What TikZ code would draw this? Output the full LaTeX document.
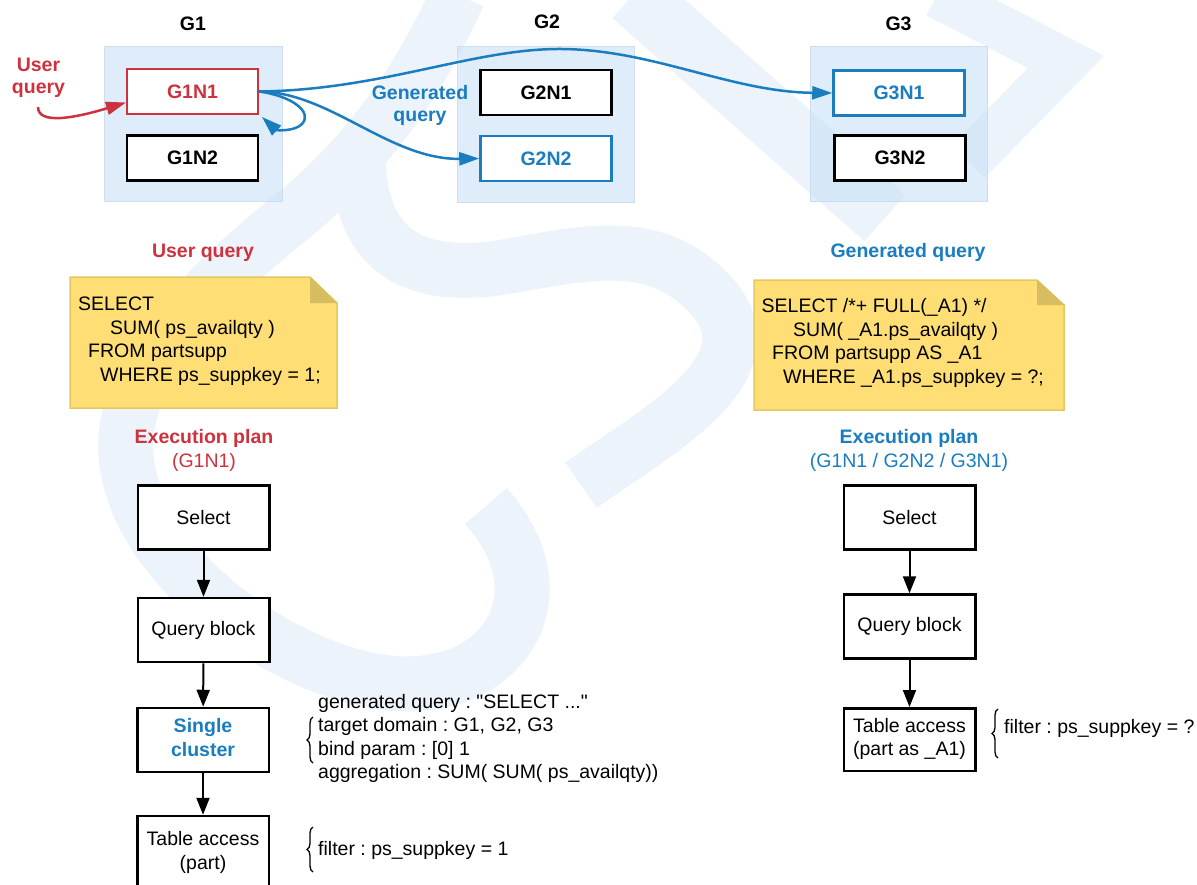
\documentclass[tikz,border=0pt]{standalone}
\usepackage{fontspec}
\setmainfont{Liberation Sans}
\newfontfamily\plainsans{Liberation Sans}
\usetikzlibrary{arrows.meta,calc,decorations.pathreplacing}

\definecolor{qred}{RGB}{204,51,63}
\definecolor{qblue}{RGB}{26,125,192}
\definecolor{grpfill}{RGB}{222,237,249}
\definecolor{grpline}{RGB}{206,222,236}
\definecolor{notefill}{RGB}{255,222,117}
\definecolor{noteline}{RGB}{228,200,95}
\definecolor{notefold}{RGB}{214,190,96}
\definecolor{wmk}{RGB}{200,220,243}

% rows of text set with a fixed line pitch
\newcommand{\txtrows}[2]{\begin{tabular}[t]{@{}#1@{}}#2\end{tabular}}
% straight double quote (no TeX ligature mapping)
\newcommand{\dq}{{\plainsans\char34}}
\frenchspacing

\begin{document}
\begin{tikzpicture}[x=1pt, y=-1pt,
  font=\fontsize{19.5}{23.5}\selectfont,
  grp/.style={fill=grpfill, draw=grpline, line width=0.8pt},
  gnode/.style={draw, line width=2.5pt, fill=white, minimum width=131pt,
    minimum height=45pt, inner sep=0pt,
    font=\fontsize{19.5}{23.5}\selectfont\bfseries},
  planbox/.style={draw, line width=2.5pt, fill=white, minimum width=131.5pt,
    minimum height=64pt, inner sep=0pt, align=center},
  flow/.style={-{Triangle[length=17pt,width=13pt]}, line width=2pt},
  link/.style={qblue, line width=2.5pt, -{Triangle[length=20pt,width=13pt]}},
  redlink/.style={qred, line width=2.5pt, -{Triangle[length=20pt,width=13pt]}},
  brc/.style={decorate, decoration={brace, amplitude=6pt}, line width=1.3pt},
  note/.style={fill=notefill, draw=noteline, line width=1.5pt},
  fold/.style={fill=notefold},
  wm/.style={draw=wmk, draw opacity=0.32, line width=55pt},
  lbl/.style={inner sep=0pt, anchor=base},
  txt/.style={inner sep=0pt, anchor=base west},
  twoline/.style={inner sep=0pt, font=\fontsize{19.5}{22}\selectfont\bfseries}]

\useasboundingbox (0,0) rectangle (1197,884);
\clip (0,0) rectangle (1197,884);
\fill[white] (0,0) rectangle (1197,884);

% group panels
\draw[grp] (104,46) rectangle (282,201);
\draw[grp] (457,46) rectangle (634,202);
\draw[grp] (810,46) rectangle (987,201);

% background emblem
\draw[wm]
  (458,-5) .. controls (420,80) and (370,150) .. (300,210)
           .. controls (200,290) and (110,380) .. (128,470)
           .. controls (150,590) and (330,700) .. (430,682)
           .. controls (510,672) and (560,590) .. (486,506)
  (358,153) .. controls (358,265) and (430,280) .. (510,266)
            .. controls (590,252) and (660,235) .. (715,300)
            .. controls (770,370) and (660,430) .. (581,485);
\draw[wm, line width=62pt] (633,-5) -- (885,218);
\draw[wm, line width=46pt, line join=miter] (937,-5) -- (1066,62) -- (968,162);

% group titles
\node[lbl, font=\fontsize{19.5}{23.5}\selectfont\bfseries] (tg1) at (193,30) {G1};
\node[lbl, font=\fontsize{19.5}{23.5}\selectfont\bfseries] (tg2) at (547,28) {G2};
\node[lbl, font=\fontsize{19.5}{23.5}\selectfont\bfseries] (tg3) at (898.5,30) {G3};

% cluster nodes
\node[gnode, draw=qred, text=qred, line width=2pt] (g1n1) at (192.5,91.5) {G1N1};
\node[gnode] (g1n2) at (192.5,158) {G1N2};
\node[gnode] (g2n1) at (546,92.5) {G2N1};
\node[gnode, draw=qblue, text=qblue] (g2n2) at (546,158.5) {G2N2};
\node[gnode, draw=qblue, text=qblue] (g3n1) at (899,93) {G3N1};
\node[gnode] (g3n2) at (900,158) {G3N2};

% incoming user query
\node[twoline, text=qred] (uqlbl) at (38.5,78.5) {\txtrows{c}{User\\query}};
\coordinate (uqstart) at (38,107);
\draw[redlink] (uqstart) .. controls (38,125) and (75,118) .. ($(g1n1.west)+(0,11)$);

% generated queries
\node[twoline, text=qblue] (gqlbl) at (420,106) {\txtrows{c}{Generated\\query}};
\draw[link] (g1n1.east) .. controls (292,96) and (313,112) .. (302,124)
            .. controls (294,132) and (276,130) .. ($(g1n1.south east)+(3,2)$);
\draw[link] (g1n1.east) .. controls (330,92) and (390,160) .. (g2n2.west);
\draw[link] (g1n1.east) .. controls (380,90) and (470,50) .. (556,49)
            .. controls (650,48) and (730,92) .. (g3n1.west);

% query notes
\node[lbl, text=qred, font=\fontsize{19.5}{23.5}\selectfont\bfseries] (huq) at (203,257) {User query};
\draw[note] (70,277) -- (310,277) -- (337,303) -- (337,408) -- (70,408) -- cycle;
\fill[fold] (310,277) -- (310,303) -- (337,303) -- cycle;
\node[txt] (uqtext) at (78,310.5) {\txtrows{l}{SELECT\\
  \hspace*{32pt}SUM( ps\_availqty )\\
  \hspace*{10pt}FROM partsupp\\
  \hspace*{22pt}WHERE ps\_suppkey = 1;}};

\node[lbl, text=qblue, font=\fontsize{19.5}{23.5}\selectfont\bfseries] (hgq) at (908,257) {Generated query};
\draw[note] (754,280) -- (1037,280) -- (1064,305) -- (1064,410) -- (754,410) -- cycle;
\fill[fold] (1037,280) -- (1037,305) -- (1064,305) -- cycle;
\node[txt] (gqtext) at (761.5,312.5) {\txtrows{l}{SELECT /*+ FULL(\_A1) */\\
  \hspace*{31.5pt}SUM( \_A1.ps\_availqty )\\
  \hspace*{10.5pt}FROM partsupp AS \_A1\\
  \hspace*{21.5pt}WHERE \_A1.ps\_suppkey = ?;}};

% plan headings
\node[lbl, text=qred, font=\fontsize{19.5}{23.5}\selectfont\bfseries] (hep1) at (204,443) {Execution plan};
\node[lbl, text=qred] (hep1s) at (204,467) {(G1N1)};
\node[lbl, text=qblue, font=\fontsize{19.5}{23.5}\selectfont\bfseries] (hep2) at (909,443) {Execution plan};
\node[lbl, text=qblue] (hep2s) at (909,467) {(G1N1 / G2N2 / G3N1)};

% plan of the user query
\node[planbox] (ls) at (203.5,517.5) {Select};
\node[planbox] (lq) at (203.5,630) {Query block};
\node[planbox, text=qblue, font=\fontsize{19.5}{23.5}\selectfont\bfseries] (lc) at (203,740) {\txtrows{c}{Single\\cluster}};
\node[planbox, minimum height=74pt] (lt) at (203,853) {\txtrows{c}{Table access\\(part)}};
\draw[flow] (ls) -- (lq);
\draw[flow] (lq) -- (lc);
\draw[flow] (lc) -- (lt);

\node[txt] (lcinfo) at (318,708) {\txtrows{l}{generated query : \dq SELECT ...\dq\\
  target domain : G1, G2, G3\\
  bind param : [0] 1\\
  aggregation : SUM( SUM( ps\_availqty))}};
\draw[brc] (313,763) -- (313,717);
\node[txt] (ltinfo) at (318,855) {filter : ps\_suppkey = 1};
\draw[brc] (313,872) -- (313,827);

% plan of the generated query
\node[planbox] (rs) at (909.5,517.5) {Select};
\node[planbox] (rq) at (909.5,626.5) {Query block};
\node[planbox, minimum height=62.5pt] (rt) at (909.5,739.5) {\txtrows{c}{Table access\\(part as \_A1)}};
\draw[flow] (rs) -- (rq);
\draw[flow] (rq) -- (rt);

\node[txt] (rtinfo) at (1004,733) {filter : ps\_suppkey = ?};
\draw[brc] (998,758) -- (998,709);
\end{tikzpicture}
\end{document}
